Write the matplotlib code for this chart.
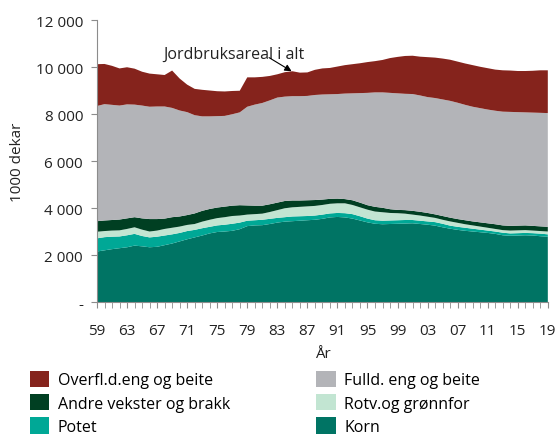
import matplotlib
matplotlib.use("Agg")
import matplotlib.pyplot as plt
import numpy as np
from matplotlib.patches import Patch

years = list(range(1959, 2020))

korn = [2150, 2200, 2250, 2290, 2330, 2400, 2370, 2330, 2350, 2420,
        2490, 2580, 2670, 2750, 2830, 2920, 2980, 3000, 3030, 3100,
        3230, 3260, 3270, 3320, 3380, 3420, 3440, 3460, 3480, 3500,
        3540, 3600, 3620, 3600, 3550, 3470, 3390, 3330, 3310, 3320,
        3330, 3340, 3350, 3320, 3290, 3250, 3180, 3120, 3070, 3030,
        3000, 2970, 2940, 2900, 2840, 2820, 2830, 2840, 2830, 2800, 2780]

potet = [560, 560, 530, 500, 510, 500, 440, 420, 430, 410,
         390, 360, 350, 320, 310, 280, 280, 290, 300, 280,
         230, 220, 230, 220, 200, 190, 200, 190, 180, 180,
         180, 170, 170, 180, 190, 180, 160, 150, 150, 150,
         150, 150, 140, 140, 140, 150, 150, 130, 130, 130,
         120, 110, 100, 100, 110, 100, 100, 100, 100, 110, 100]

rotv = [280, 260, 260, 260, 270, 280, 270, 250, 260, 280,
        280, 270, 260, 250, 280, 300, 310, 320, 330, 300,
        260, 260, 260, 290, 330, 380, 390, 400, 410, 410,
        410, 410, 410, 420, 390, 380, 380, 370, 360, 320,
        300, 270, 230, 220, 200, 180, 170, 180, 170, 150,
        140, 130, 120, 110, 110, 120, 120, 120, 110, 110, 120]

andre = [450, 450, 450, 460, 450, 430, 480, 530, 490, 440,
         450, 430, 420, 450, 460, 460, 450, 450, 440, 440,
         390, 360, 340, 330, 320, 310, 290, 270, 260, 250,
         230, 210, 200, 180, 200, 200, 190, 200, 190, 160,
         140, 150, 160, 160, 160, 150, 160, 160, 160, 170,
         170, 180, 190, 200, 200, 200, 200, 200, 200, 200, 200]

fulld = [4900, 4950, 4900, 4850, 4850, 4790, 4800, 4780, 4790, 4770,
         4650, 4510, 4380, 4180, 4020, 3940, 3890, 3860, 3890, 3950,
         4200, 4300, 4370, 4420, 4470, 4440, 4440, 4440, 4440, 4470,
         4470, 4450, 4450, 4490, 4550, 4660, 4780, 4870, 4910, 4950,
         4960, 4950, 4970, 4950, 4930, 4950, 4960, 4970, 4950, 4910,
         4880, 4860, 4840, 4830, 4840, 4850, 4830, 4810, 4820, 4830, 4840]

overfl = [1780, 1710, 1660, 1580, 1580, 1530, 1440, 1410, 1370, 1340,
          1590, 1360, 1170, 1120, 1130, 1100, 1060, 1040, 990, 920,
          1250, 1160, 1110, 1040, 990, 1040, 1060, 1000, 1000, 1070,
          1110, 1120, 1170, 1210, 1240, 1270, 1310, 1330, 1380, 1480,
          1550, 1610, 1630, 1650, 1700, 1720, 1740, 1750, 1750, 1760,
          1770, 1760, 1760, 1750, 1760, 1760, 1750, 1760, 1780, 1810, 1820]

series_names = ["Korn", "Potet", "Rotv.og grønnfor", "Andre vekster og brakk",
                "Fulld. eng og beite", "Overfl.d.eng og beite"]
colors = ["#007464", "#00a896", "#c2e5d2", "#003f22", "#b3b4b8", "#85231c"]

yticks = [0, 2000, 4000, 6000, 8000, 10000, 12000]
ytick_labels = ["-", "2 000", "4 000", "6 000", "8 000", "10 000", "12 000"]
xtick_years = list(range(1959, 2020, 4))
xtick_labels = [f"{y % 100:02d}" for y in xtick_years]

annot_text = "Jordbruksareal i alt"

plt.rcParams['font.family'] = ['Open Sans', 'DejaVu Sans']

fig = plt.figure(figsize=(5.59, 4.35), dpi=100)
ax = fig.add_axes([0.1735, 0.3034, 0.8065, 0.6483])

ax.stackplot(years, korn, potet, rotv, andre, fulld, overfl,
             colors=colors, linewidth=0)

ax.set_xlim(1959, 2019)
ax.set_ylim(0, 12000)
ax.set_yticks(yticks)
ax.set_yticklabels(ytick_labels)
ax.set_xticks(xtick_years)
ax.set_xticklabels(xtick_labels)
ax.set_xticks(years, minor=True)

for s in ["top", "right"]:
    ax.spines[s].set_visible(False)
for s in ["left", "bottom"]:
    ax.spines[s].set_color("#8c8c8c")
    ax.spines[s].set_linewidth(0.8)

ax.tick_params(axis="y", direction="out", length=4, color="#8c8c8c",
               labelsize=11, pad=6, labelcolor="#222222")
ax.tick_params(axis="x", which="both", direction="out", length=4,
               color="#8c8c8c", labelsize=11, pad=11, labelcolor="#222222")

ax.set_ylabel("1000 dekar", fontsize=11, labelpad=8, color="#222222")
ax.set_xlabel("År", fontsize=11, labelpad=6, color="#222222")

total = np.sum([korn, potet, rotv, andre, fulld, overfl], axis=0)
idx = years.index(1985)
ax.text(1977.2, 10540, annot_text, fontsize=11.5, ha="center", va="center",
        color="#222222")
ax.annotate("", xy=(1984.9, total[idx]), xytext=(1981.9, 10400),
            arrowprops=dict(arrowstyle="-|>", color="black", lw=0.8,
                            mutation_scale=10, shrinkA=0, shrinkB=0))

handles = [Patch(facecolor=c, edgecolor="none") for c in colors]
order = [5, 3, 1, 4, 2, 0]
hs = [handles[i] for i in order]
ls = [series_names[i] for i in order]
fig.legend(hs, ls, loc="lower left", bbox_to_anchor=(0.028, -0.035), ncol=2,
           frameon=False, fontsize=11.5, handlelength=1.2, handleheight=1.2,
           handletextpad=0.55, columnspacing=5.4, labelspacing=0.36)

fig.savefig("out.png", dpi=100)
